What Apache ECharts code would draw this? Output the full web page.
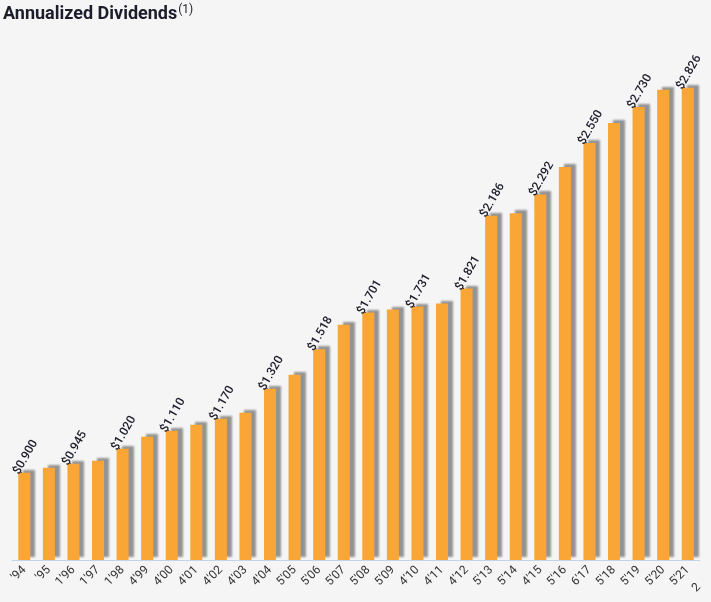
<!DOCTYPE html>
<html>
<head>
<meta charset="utf-8">
<script src="https://cdn.jsdelivr.net/npm/echarts@6/dist/echarts.min.js"></script>
<style>
html,body{margin:0;padding:0;background:#f5f5f5;}
#chart{width:711px;height:602px;}
</style>
</head>
<body>
<div id="chart"></div>
<script>
var categories = ["'94","'95","1'96","1'97","1'98","4'99","4'00","4'01","4'02","4'03","4'04","5'05","5'06","5'07","5'08","5'09","4'10","4'11","4'12","5'13","5'14","4'15","5'16","6'17","5'18","5'19","5'20","5'21"];
var dividends = [0.900,0.925,0.945,0.960,1.020,1.080,1.110,1.140,1.170,1.200,1.320,1.390,1.518,1.640,1.701,1.716,1.731,1.746,1.821,2.186,2.198,2.292,2.430,2.550,2.650,2.730,2.816,2.826];
var shownLabels = ["$0.900",null,"$0.945",null,"$1.020",null,"$1.110",null,"$1.170",null,"$1.320",null,"$1.518",null,"$1.701",null,"$1.731",null,"$1.821","$2.186",null,"$2.292",null,"$2.550",null,"$2.730",null,"$2.826"];
var extraTick = '2';
var titleText = 'Annualized Dividends';
var titleNote = '(1)';

var chart = echarts.init(document.getElementById('chart'));
chart.setOption({
  animation:false,
  grid:{left:12,right:11,top:53,bottom:42},
  xAxis:{
    type:'category',
    data:categories,
    axisLine:{lineStyle:{color:'#c5d3e8',width:1}},
    axisTick:{show:false},
    axisLabel:{rotate:45,fontFamily:'Roboto',fontSize:12,color:'#333',margin:8,interval:0}
  },
  yAxis:{
    type:'value',
    min:0.463,max:3.0,
    show:false
  },
  series:[{
    type:'bar',
    data:dividends,
    barWidth:12,
    itemStyle:{
      color:'#f9a637',
      shadowColor:'rgba(0,0,0,0.4)',
      shadowBlur:2,
      shadowOffsetX:5,
      shadowOffsetY:-3
    },
    label:{
      show:true,
      position:'top',
      rotate:60,
      align:'left',
      verticalAlign:'middle',
      distance:5,
      offset:[-9,-4],
      fontFamily:'Roboto',
      fontSize:12,
      fontWeight:500,
      color:'#1c1c2b',
      formatter:function(p){return shownLabels[p.dataIndex] || '';}
    }
  }],
  graphic:[
    {
      type:'text',
      x:3, y:4,
      style:{
        text:'{t|'+titleText+'}{s|'+titleNote+'}',
        rich:{
          t:{fontFamily:'Roboto',fontWeight:'bold',fontSize:18,fill:'#1c1c2b',color:'#1c1c2b'},
          s:{fontFamily:'Roboto',fontSize:12,fill:'#1c1c2b',color:'#1c1c2b',verticalAlign:'top',padding:[0,0,8,1]}
        }
      }
    },
    {
      type:'text',
      x:690, y:586,
      rotation:Math.PI/4,
      style:{text:extraTick,font:'12px Roboto',fill:'#333'}
    }
  ]
});
</script>
</body>
</html>
